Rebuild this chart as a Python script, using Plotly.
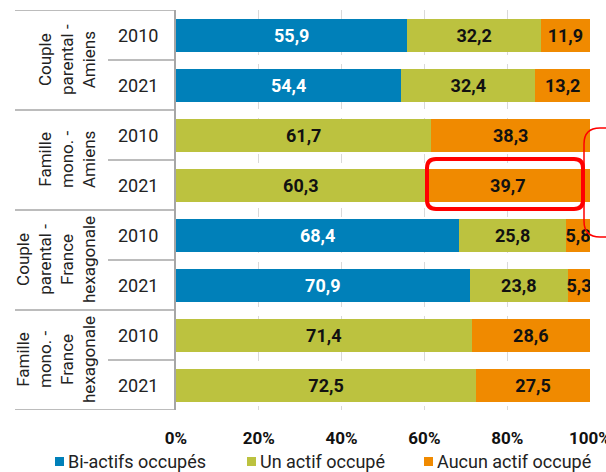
import plotly.graph_objects as go

# ---- data ----
groups = ["Couple<br>parental -<br>Amiens", "Famille<br>mono. -<br>Amiens",
          "Couple<br>parental -<br>France<br>hexagonale", "Famille<br>mono. -<br>France<br>hexagonale"]
years = ["2010", "2021"]
series_names = ["Bi-actifs occupés", "Un actif occupé", "Aucun actif occupé"]
bi_actifs = [55.9, 54.4, 0, 0, 68.4, 70.9, 0, 0]
un_actif = [32.2, 32.4, 61.7, 60.3, 25.8, 23.8, 71.4, 72.5]
aucun_actif = [11.9, 13.2, 38.3, 39.7, 5.8, 5.3, 28.6, 27.5]
x_ticks = [0, 20, 40, 60, 80, 100]

colors = ["#0080B9", "#BCC23F", "#F08A00"]
text_colors = ["#FFFFFF", "#111111", "#111111"]
FONT = "Roboto"

# figure is a bit wider than the 606px window so that "100%" and the bracket get cut by the edge
W, H = 630, 472
L, R, T, B = 176, 40, 10, 62
pw, ph = W - L - R, H - T - B


def px_x(px):
    return (px - L) / pw


def px_y(py):
    return (H - B - py) / ph


def fmt(v):
    return "" if v == 0 else f"{v:.1f}".replace(".", ",")


fig = go.Figure()
ypos = list(range(len(bi_actifs)))
for name, vals, c, tc in zip(series_names, [bi_actifs, un_actif, aucun_actif], colors, text_colors):
    fig.add_trace(go.Bar(
        name=name, y=ypos, x=vals, orientation="h", width=0.66,
        marker=dict(color=c, line=dict(width=0)),
        text=[fmt(v) for v in vals], textposition="inside",
        insidetextanchor="middle", textangle=0, constraintext="none",
        textfont=dict(family=FONT, size=18, color=tc, weight="bold"),
        hoverinfo="skip", showlegend=False,
    ))

shapes = []
annotations = []
line_col = "#A6A6A6"
# group separators
for b in [-0.5, 1.5, 3.5, 5.5, 7.5]:
    shapes.append(dict(type="line", xref="paper", yref="y", x0=px_x(15), x1=0, y0=b, y1=b,
                       line=dict(color=line_col, width=1.5)))
# year separators
for b in [0.5, 2.5, 4.5, 6.5]:
    shapes.append(dict(type="line", xref="paper", yref="y", x0=px_x(108), x1=0, y0=b, y1=b,
                       line=dict(color=line_col, width=1.5)))

# labels
for gi, g in enumerate(groups):
    annotations.append(dict(xref="paper", yref="y", x=px_x(101), y=gi * 2 + 0.5, text=g,
                            textangle=-90, showarrow=False, xanchor="right", yanchor="middle",
                            align="center", font=dict(family=FONT, size=17, color="#222222")))
    for yi, yr in enumerate(years):
        annotations.append(dict(xref="paper", yref="y", x=px_x(138), y=gi * 2 + yi, text=yr,
                                showarrow=False, xanchor="center", yanchor="middle",
                                font=dict(family=FONT, size=18, color="#222222")))

# legend (drawn manually for exact placement)
legend_sq = [55, 247, 424]
for name, c, sx in zip(series_names, colors, legend_sq):
    shapes.append(dict(type="rect", xref="paper", yref="paper",
                       x0=px_x(sx), x1=px_x(sx + 9), y0=px_y(466), y1=px_y(457),
                       fillcolor=c, line=dict(width=0)))
    annotations.append(dict(xref="paper", yref="paper", x=px_x(sx + 11), y=px_y(461), text=name,
                            showarrow=False, xanchor="left", yanchor="middle",
                            font=dict(family=FONT, size=18, color="#222222")))

# red highlight around 39,7 bar
def rrect(x0, x1, y0, y1, rx, ry):
    return (f"M{x0+rx},{y0} L{x1-rx},{y0} Q{x1},{y0} {x1},{y0+ry} L{x1},{y1-ry} Q{x1},{y1} {x1-rx},{y1} "
            f"L{x0+rx},{y1} Q{x0},{y1} {x0},{y1-ry} L{x0},{y0+ry} Q{x0},{y0} {x0+rx},{y0} Z")

hx0, hx1 = px_x(427), px_x(583)
hy0, hy1 = px_y(209), px_y(159)
shapes.append(dict(type="path", xref="paper", yref="paper",
                   path=rrect(hx0, hx1, hy0, hy1, 9 / pw, 9 / ph),
                   line=dict(color="#FF0000", width=4)))
# red bracket on the right (cut by the edge)
bx0, bx1 = px_x(584), px_x(660)
by0, by1 = px_y(237), px_y(128)
shapes.append(dict(type="path", xref="paper", yref="paper",
                   path=rrect(bx0, bx1, by0, by1, 16 / pw, 16 / ph),
                   line=dict(color="#FF0000", width=1.5)))

fig.update_layout(
    width=W, height=H, margin=dict(l=L, r=R, t=T, b=B, pad=0, autoexpand=False),
    barmode="stack", bargap=0.34,
    plot_bgcolor="white", paper_bgcolor="white",
    font=dict(family=FONT, size=17, color="#222222"),
    xaxis=dict(range=[0, 100], tickvals=x_ticks, ticktext=[f"{v}%" for v in x_ticks],
               showgrid=True, gridcolor="#D9D9D9", griddash="dash", gridwidth=1,
               zeroline=False, showline=False, ticks="", ticklabelstandoff=16, automargin=False,
               tickfont=dict(family=FONT, size=17, color="#111111", weight="bold"), fixedrange=True),
    yaxis=dict(range=[7.5, -0.5], showticklabels=False, showgrid=False, zeroline=False,
               showline=True, linecolor=line_col, linewidth=2, ticks="", fixedrange=True,
               automargin=False),
    shapes=shapes, annotations=annotations,
    showlegend=False,
)

fig.write_html("out.html", config={"displayModeBar": False},
               post_script="document.body.style.margin='0';document.body.style.overflow='hidden';")
